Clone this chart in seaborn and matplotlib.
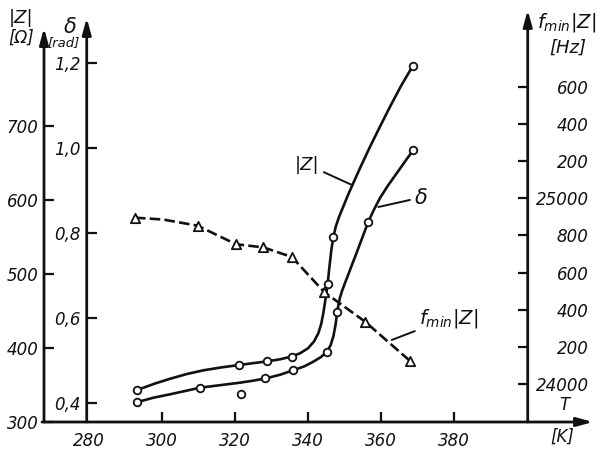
import matplotlib
matplotlib.use("Agg")
import matplotlib.pyplot as plt
import seaborn as sns

# ---------------- data ----------------
# |Z| [Ohm] vs T [K] : measured points and traced curve
T_z_pts = [293.3, 321.2, 328.7, 335.5, 345.4, 346.9, 368.6]
Z_pts = [343, 377, 382, 388.5, 487, 550, 781]
T_z_curve = [293.25, 298.17, 302.27, 306.92, 311.57, 316.49, 321.13, 324.96,
             328.79, 332.34, 335.49, 337.81, 340.00, 341.64, 342.82, 343.61,
             344.18, 344.81, 345.39, 345.88, 346.37, 346.92, 347.60, 348.48,
             349.65, 350.94, 352.39, 354.49, 356.96, 359.69, 362.43, 365.43,
             368.63]
Z_curve = [343.2, 352.0, 358.4, 364.9, 370.0, 373.9, 377.0, 379.5, 381.9,
           384.7, 388.5, 392.8, 399.6, 408.8, 419.9, 432.4, 446.9, 466.9,
           487.4, 510.8, 531.8, 550.0, 564.2, 577.0, 591.2, 606.8, 623.0,
           646.0, 672.0, 699.3, 726.1, 754.1, 781.1]

# delta [rad] vs T [K]
T_d_pts = [293.2, 310.5, 328.3, 336.0, 345.1, 348.0, 356.5, 368.8]
d_pts = [0.402, 0.436, 0.458, 0.477, 0.520, 0.615, 0.827, 0.995]
T_d_curve = [293.16, 297.62, 302.30, 306.40, 310.47, 315.94, 321.41, 324.96,
             328.33, 332.34, 335.98, 338.91, 341.45, 343.55, 345.11, 346.15,
             346.92, 347.52, 348.01, 348.34, 348.75, 349.30, 350.12, 351.48,
             353.32, 354.76, 356.49, 358.05, 359.69, 361.87, 364.25, 366.52,
             368.79]
d_curve = [0.4016, 0.4122, 0.4205, 0.4282, 0.4360, 0.4419, 0.4478, 0.4525,
           0.4576, 0.4664, 0.4772, 0.4859, 0.4972, 0.5082, 0.5200, 0.5353,
           0.5560, 0.5835, 0.6153, 0.6318, 0.6482, 0.6635, 0.6824, 0.7129,
           0.7541, 0.7871, 0.8266, 0.8553, 0.8824, 0.9118, 0.9405, 0.9682,
           0.9953]
T_d_extra = [321.7]
d_extra = [0.421]

# f_min|Z| [Hz] vs T [K]
T_f_pts = [292.7, 309.8, 320.3, 327.8, 335.6, 344.5, 355.6, 367.9]
f_pts = [24896, 24853, 24753, 24736, 24684, 24494, 24336, 24124]
T_f_curve = [292.7, 300.4, 309.8, 320.3, 327.8, 335.6, 344.5, 355.6, 367.9]
f_curve = [24896, 24886, 24853, 24753, 24736, 24684, 24494, 24336, 24124]

# ticks
x_ticks = [280, 300, 320, 340, 360, 380]
z_ticks = [300, 400, 500, 600, 700]
d_ticks = [0.4, 0.6, 0.8, 1.0, 1.2]
d_labels = ["0,4", "0,6", "0,8", "1,0", "1,2"]
f_ticks = [24000, 24200, 24400, 24600, 24800, 25000, 25200, 25400, 25600]
f_labels = ["24000", "200", "400", "600", "800", "25000", "200", "400", "600"]

# ---------------- style ----------------
sns.set_theme(style="white")
plt.rcParams["font.family"] = ["DejaVu Sans"]
plt.rcParams["font.style"] = "italic"
plt.rcParams["mathtext.fontset"] = "dejavusans"

W, H = 611, 450
fig = plt.figure(figsize=(W / 100, H / 100), dpi=100, facecolor="white")
ax = fig.add_axes([44 / W, (H - 422) / H, (593 - 44) / W, (422 - 10) / H])
ax.set_xlim(267.82, 417.92)
ax.set_ylim(300, 856.76)
ax2 = ax.twinx()
ax2.set_ylim(0.35529, 1.32471)
ax3 = ax.twinx()
ax3.set_ylim(23795.3, 26014.7)

for a in (ax, ax2, ax3):
    for s in a.spines.values():
        s.set_visible(False)
    a.patch.set_visible(False)
    a.grid(False)

ink = "#111111"
LW = 1.9

d_axis_T = 279.5
f_axis_T = 400.07
ax2.spines["left"].set_position(("data", d_axis_T))
ax3.spines["right"].set_position(("data", f_axis_T))

# ---------------- curves ----------------
sns.lineplot(x=T_z_curve, y=Z_curve, sort=False, estimator=None, color=ink,
             lw=LW, ax=ax, zorder=3)
sns.lineplot(x=T_d_curve, y=d_curve, sort=False, estimator=None, color=ink,
             lw=LW, ax=ax2, zorder=3)
sns.lineplot(x=T_f_curve, y=f_curve, sort=False, estimator=None, color=ink,
             lw=LW, ax=ax3, zorder=3, linestyle=(0, (4, 1.6)))
for a in (ax, ax2, ax3):
    for ln in a.get_lines():
        ln.set_solid_joinstyle("round")
        ln.set_dash_joinstyle("round")

mk = dict(facecolor="white", edgecolor=ink, linewidth=1.3, zorder=5,
          legend=False)
sns.scatterplot(x=T_z_pts, y=Z_pts, marker="o", s=30, ax=ax, **mk)
sns.scatterplot(x=T_d_pts, y=d_pts, marker="o", s=30, ax=ax2, **mk)
sns.scatterplot(x=T_d_extra, y=d_extra, marker="o", s=30, ax=ax2, **mk)
sns.scatterplot(x=T_f_pts, y=f_pts, marker="^", s=45, ax=ax3, **mk)

# ---------------- axes lines with arrows ----------------
arr = dict(arrowstyle="-|>,head_length=0.8,head_width=0.22", lw=2.0,
           color=ink, shrinkA=0, shrinkB=0)
ax.annotate("", xy=(417.92, 300), xytext=(267.3, 300), arrowprops=arr,
            annotation_clip=False)
ax.annotate("", xy=(267.82, 832.4), xytext=(267.82, 300), arrowprops=arr,
            annotation_clip=False)
ax2.annotate("", xy=(d_axis_T, 1.3059), xytext=(d_axis_T, 0.35529),
             arrowprops=arr, annotation_clip=False)
ax3.annotate("", xy=(f_axis_T, 26014.7), xytext=(f_axis_T, 23795.3),
             arrowprops=arr, annotation_clip=False)

# ---------------- ticks ----------------
tk = dict(direction="in", length=7, width=1.6, colors=ink, labelsize=12,
          labelcolor=ink)
ax.set_xticks(x_ticks)
ax.set_xticklabels([str(v) for v in x_ticks])
ax.tick_params(axis="x", bottom=True, top=False, pad=7, **tk)
ax.xaxis.get_major_ticks()[0].tick1line.set_visible(False)
ax.set_yticks(z_ticks)
ax.set_yticklabels([str(v) for v in z_ticks])
ax.tick_params(axis="y", left=True, right=False, pad=4, **tk)

ax2.yaxis.set_ticks_position("left")
ax2.set_yticks(d_ticks)
ax2.set_yticklabels(d_labels)
ax2.tick_params(axis="y", left=True, right=False, labelleft=True,
                labelright=False, pad=4, **tk)

ax3.set_yticks(f_ticks)
ax3.set_yticklabels(f_labels)
ax3.tick_params(axis="y", right=True, left=False, labelright=True,
                labelleft=False, pad=44, **tk)
for lab in ax3.get_yticklabels():
    lab.set_horizontalalignment("right")

for a in (ax, ax2, ax3):
    a.set_xlabel("")
    a.set_ylabel("")

# ---------------- axis titles ----------------
def ftext(x, y, s, size, **kw):
    fig.text(x / W, 1 - y / H, s, fontsize=size, color=ink, ha="center",
             va="center", **kw)

ftext(21, 18, "|Z|", 13)
ftext(21, 38, "[Ω]", 12)
ftext(70, 27, "δ", 15)
ftext(64, 43, "[rad]", 9.5)
fig.text(537 / W, 1 - 22 / H, r"$f_{min}|Z|$", fontsize=14, color=ink,
         ha="left", va="center")
ftext(568, 48, "[Hz]", 13)
ftext(564, 405, "T", 12)
ftext(562, 437, "[K]", 12)

# ---------------- curve labels ----------------
lead = dict(arrowstyle="-", lw=1.4, color=ink, shrinkA=1, shrinkB=0)
ax.annotate("|Z|", xy=(352.03, 620.27), xytext=(339.73, 647.97), fontsize=13,
            color=ink, ha="center", va="center", arrowprops=lead)
ax.annotate("δ", xy=(359.22, 590.54), xytext=(370.89, 603.38), fontsize=15,
            color=ink, ha="center", va="center", arrowprops=lead)
ax.annotate(r"$f_{min}|Z|$", xy=(362.88, 410.81), xytext=(378.55, 440.54),
            fontsize=14, color=ink, ha="center", va="center", arrowprops=lead)

fig.savefig("out.png", dpi=100, facecolor="white")
